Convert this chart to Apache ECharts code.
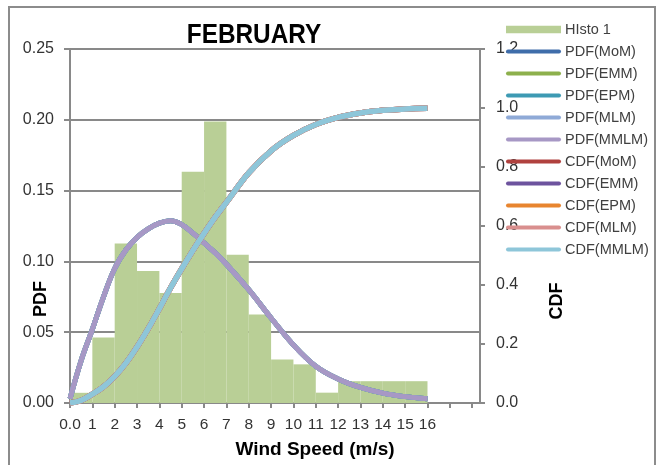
<!DOCTYPE html>
<html>
<head>
<meta charset="utf-8">
<script src="https://cdn.jsdelivr.net/npm/echarts@6/dist/echarts.min.js"></script>
<style>
html,body{margin:0;padding:0;background:#fff;}
#chart{width:659px;height:465px;}
</style>
</head>
<body>
<div id="chart"></div>
<script>
// ---- data ----
const binStarts = [0, 1, 2, 3, 4, 5, 6, 7, 8, 9, 10, 11, 12, 13, 14, 15];
const histoValues = [0.0072, 0.0462, 0.1127, 0.0932, 0.0776, 0.1634, 0.1988, 0.1047, 0.0625, 0.0308, 0.0273, 0.0073, 0.0154, 0.0154, 0.0154, 0.0154];

const curveX = [0, 0.5, 1, 1.5, 2, 2.5, 3, 3.5, 4, 4.5, 5, 5.5, 6, 6.5, 7, 8, 9, 10, 11, 12, 13, 14, 15, 16];
const pdfValues = [0.003, 0.030, 0.052, 0.075, 0.095, 0.108, 0.117, 0.123, 0.127, 0.1287, 0.126, 0.120, 0.113, 0.106, 0.098, 0.080, 0.060, 0.041, 0.026, 0.017, 0.011, 0.007, 0.0045, 0.003];
const cdfValues = [0, 0.009, 0.030, 0.055, 0.090, 0.135, 0.190, 0.252, 0.320, 0.390, 0.455, 0.517, 0.575, 0.630, 0.680, 0.780, 0.855, 0.907, 0.944, 0.968, 0.983, 0.992, 0.997, 0.999];

const pdfNames = ['PDF(MoM)', 'PDF(EMM)', 'PDF(EPM)', 'PDF(MLM)', 'PDF(MMLM)'];
const cdfNames = ['CDF(MoM)', 'CDF(EMM)', 'CDF(EPM)', 'CDF(MLM)', 'CDF(MMLM)'];
const pdfColors = ['#3F6DAA', '#8DB04C', '#3D9AB3', '#8FAAD7', '#A798C5'];
const cdfColors = ['#B0413E', '#6D539E', '#E8852F', '#D98F8E', '#8EC6D9'];
const histoColor = '#B9CF96';

const xTickValues = [0, 1, 2, 3, 4, 5, 6, 7, 8, 9, 10, 11, 12, 13, 14, 15, 16, 17, 18];
const xLabelValues = [0, 1, 2, 3, 4, 5, 6, 7, 8, 9, 10, 11, 12, 13, 14, 15, 16];

// ---- chart ----
const chart = echarts.init(document.getElementById('chart'), null, {renderer: 'canvas'});
const FONT = "'Liberation Sans', Arial, sans-serif";
const gray = '#898989';

const toPairs = vals => curveX.map((x, i) => [x, vals[i]]);

const series = [{
  name: 'HIsto 1',
  type: 'custom',
  xAxisIndex: 0, yAxisIndex: 0,
  data: binStarts.map((b, i) => [b, histoValues[i]]),
  itemStyle: {color: histoColor},
  renderItem: function (params, api) {
    const x0 = api.value(0);
    const v = api.value(1);
    const p0 = api.coord([x0, v]);
    const p1 = api.coord([x0 + 1, 0]);
    return {
      type: 'rect',
      shape: {x: p0[0], y: p0[1], width: p1[0] - p0[0], height: p1[1] - p0[1]},
      style: {fill: histoColor}
    };
  }
}];
pdfNames.forEach((n, i) => series.push({
  name: n, type: 'line', xAxisIndex: 0, yAxisIndex: 0,
  data: toPairs(pdfValues), symbol: 'none', smooth: 0.4,
  lineStyle: {width: 5, color: pdfColors[i]}, itemStyle: {color: pdfColors[i]}
}));
cdfNames.forEach((n, i) => series.push({
  name: n, type: 'line', xAxisIndex: 0, yAxisIndex: 1,
  data: toPairs(cdfValues), symbol: 'none', smooth: 0.4,
  lineStyle: {width: 5.5, color: cdfColors[i]}, itemStyle: {color: cdfColors[i]}
}));

const lineIcon = 'path://M2,0 L53,0 A2,2 0 0 1 53,4 L2,4 A2,2 0 0 1 2,0 Z';
const rectIcon = 'path://M0,0 L52,0 L52,7 L0,7 Z';

const legendData = [{name: 'HIsto 1', icon: rectIcon}]
  .concat(pdfNames.map(n => ({name: n, icon: lineIcon})))
  .concat(cdfNames.map(n => ({name: n, icon: lineIcon})));

chart.setOption({
  animation: false,
  backgroundColor: '#fff',
  grid: {left: 70, right: 179, top: 49, bottom: 62, containLabel: false},
  legend: {
    orient: 'vertical', left: 506, top: 22, padding: 0,
    itemWidth: 55, itemHeight: 14, itemGap: 7.0,
    symbolKeepAspect: true,
    itemStyle: {borderWidth: 0},
    textStyle: {fontFamily: FONT, fontSize: 14.5, color: '#404040', lineHeight: 14, padding: [0, 0, 0, -1]},
    data: legendData
  },
  xAxis: {
    type: 'value', min: 0, max: 18.35,
    axisLine: {show: true, onZero: false, lineStyle: {color: gray, width: 2}},
    axisTick: {show: true, inside: false, length: 5, customValues: xTickValues, lineStyle: {color: gray, width: 2}},
    axisLabel: {
      customValues: xLabelValues, margin: 14,
      fontFamily: FONT, fontSize: 15.5, color: '#333',
      formatter: v => (v === 0 ? '0.0' : String(v))
    },
    splitLine: {show: false}
  },
  yAxis: [{
    type: 'value', min: 0, max: 0.25, interval: 0.05, position: 'left',
    axisLine: {show: true, lineStyle: {color: gray, width: 2}},
    axisTick: {show: true, length: 6, lineStyle: {color: gray, width: 2}},
    axisLabel: {margin: 16, fontFamily: FONT, fontSize: 16, color: '#333', formatter: v => v.toFixed(2)},
    splitLine: {show: true, lineStyle: {color: gray, width: 2}}
  }, {
    type: 'value', min: 0, max: 1.2, interval: 0.2, position: 'right',
    axisLine: {show: true, lineStyle: {color: gray, width: 2}},
    axisTick: {show: true, length: 5, lineStyle: {color: gray, width: 2}},
    axisLabel: {margin: 16, fontFamily: FONT, fontSize: 16, color: '#333', formatter: v => v.toFixed(1)},
    splitLine: {show: false}
  }],
  graphic: [
    {type: 'rect', shape: {x: 9, y: 7, width: 646, height: 470}, style: {fill: 'none', stroke: '#8c8c8c', lineWidth: 2}, silent: true},
    {type: 'text', x: 254, y: 35, scaleX: 0.87, style: {text: 'FEBRUARY', fontFamily: FONT, fontWeight: 'bold', fontSize: 28, fill: '#000', align: 'center', verticalAlign: 'middle'}},
    {type: 'text', x: 41, y: 299, rotation: Math.PI / 2, style: {text: 'PDF', fontFamily: FONT, fontWeight: 'bold', fontSize: 18, fill: '#000', align: 'center', verticalAlign: 'middle'}},
    {type: 'text', x: 557, y: 301, rotation: Math.PI / 2, style: {text: 'CDF', fontFamily: FONT, fontWeight: 'bold', fontSize: 18, fill: '#000', align: 'center', verticalAlign: 'middle'}},
    {type: 'text', x: 315, y: 450, style: {text: 'Wind Speed (m/s)', fontFamily: FONT, fontWeight: 'bold', fontSize: 19, fill: '#000', align: 'center', verticalAlign: 'middle'}}
  ],
  series: series
});
</script>
</body>
</html>
